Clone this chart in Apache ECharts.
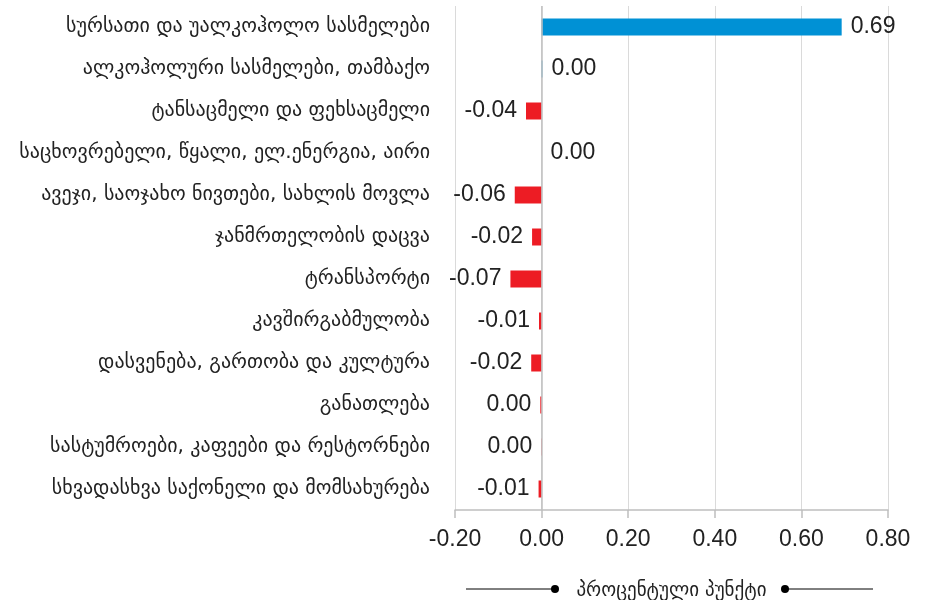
<!DOCTYPE html>
<html><head><meta charset="utf-8">
<script src="https://cdn.jsdelivr.net/npm/echarts@6/dist/echarts.min.js"></script>
<style>html,body{margin:0;padding:0;background:#fff}#c{width:928px;height:600px}</style>
</head><body><div id="c"></div>
<script>
const categories = [
  'სურსათი და უალკოჰოლო სასმელები',
  'ალკოჰოლური სასმელები, თამბაქო',
  'ტანსაცმელი და ფეხსაცმელი',
  'საცხოვრებელი, წყალი, ელ.ენერგია, აირი',
  'ავეჯი, საოჯახო ნივთები, სახლის მოვლა',
  'ჯანმრთელობის დაცვა',
  'ტრანსპორტი',
  'კავშირგაბმულობა',
  'დასვენება, გართობა და კულტურა',
  'განათლება',
  'სასტუმროები, კაფეები და რესტორნები',
  'სხვადასხვა საქონელი და მომსახურება'
];
const values = [0.693, 0.002, -0.036, 0.0, -0.062, -0.022, -0.072, -0.006, -0.024, -0.003, -0.001, -0.007];
const xTicks = {min: -0.2, max: 0.8, interval: 0.2};
const axisName = 'პროცენტული პუნქტი';

const BLUE = '#0091D5', RED = '#ED1C24';
const fmt = v => (Math.round(v * 100) / 100).toFixed(2);
const barData = values.map((v, i) => ({
  value: v,
  itemStyle: {color: v >= 0 ? BLUE : RED},
  label: {position: (v >= 0 && i !== 10 && i !== 9) ? 'right' : 'left'}
}));

const chart = echarts.init(document.getElementById('c'), null, {renderer: 'canvas'});
chart.setOption({
  animation: false,
  grid: {left: 455, right: 40, top: 6, bottom: 90, containLabel: false, outerBoundsMode: 'none'},
  xAxis: {
    type: 'value', min: xTicks.min, max: xTicks.max, interval: xTicks.interval,
    axisLabel: {formatter: v => v.toFixed(2), fontFamily: 'Liberation Sans', fontSize: 23, color: '#222', margin: 18},
    axisLine: {show: true, onZero: false, lineStyle: {color: '#BFBFBF', width: 1.5}},
    axisTick: {show: true, length: 8, inside: false, lineStyle: {color: '#BFBFBF', width: 1.5}},
    splitLine: {show: true, lineStyle: {color: '#DADADA', width: 1}},
    name: axisName, nameLocation: 'middle', nameGap: 72,
    nameTextStyle: {fontFamily: 'DejaVu Sans', fontSize: 19, color: '#222'}
  },
  yAxis: {
    type: 'category', data: categories, inverse: true,
    axisLine: {show: false}, axisTick: {show: false},
    axisLabel: {fontFamily: 'DejaVu Sans', fontSize: 20, color: '#222', margin: 25}
  },
  series: [{
    type: 'bar', data: barData, barWidth: 17,
    label: {show: true, formatter: p => fmt(p.value), fontFamily: 'Liberation Sans', fontSize: 23, color: '#222', distance: 9},
    markLine: {
      silent: true, symbol: 'none', label: {show: false},
      lineStyle: {color: '#BFBFBF', type: 'solid', width: 1.5},
      data: [{xAxis: 0}]
    }
  }],
  graphic: [
    {type: 'line', shape: {x1: 466, y1: 589, x2: 555, y2: 589}, style: {stroke: '#000', lineWidth: 1}},
    {type: 'circle', shape: {cx: 555, cy: 589, r: 4}, style: {fill: '#000'}},
    {type: 'circle', shape: {cx: 785, cy: 589, r: 4}, style: {fill: '#000'}},
    {type: 'line', shape: {x1: 785, y1: 589, x2: 873, y2: 589}, style: {stroke: '#000', lineWidth: 1}}
  ]
});
</script></body></html>
